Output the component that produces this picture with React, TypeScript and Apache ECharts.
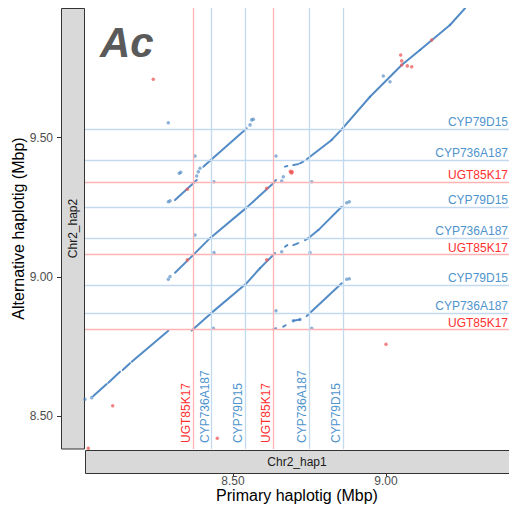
import React, { useEffect, useRef } from 'react';
import * as echarts from 'echarts';

const FONT = '"Liberation Sans", Arial, Helvetica, sans-serif';

// Axis ranges (Mbp)
const xMin = 8.0163;
const xMax = 9.402;
const yMin = 8.3814;
const yMax = 9.966;
const xTicks = [8.5, 9.0];
const yTicks = [8.5, 9.0, 9.5];

// Gene reference lines
const hGeneNames = ['UGT85K17', 'CYP736A187', 'CYP79D15', 'UGT85K17', 'CYP736A187', 'CYP79D15', 'UGT85K17', 'CYP736A187', 'CYP79D15'];
const hGenePos = [8.809, 8.866, 8.974, 9.079, 9.139, 9.247, 9.337, 9.42, 9.531];
const vGeneNames = ['UGT85K17', 'CYP736A187', 'CYP79D15', 'UGT85K17', 'CYP736A187', 'CYP79D15'];
const vGenePos = [8.37, 8.425, 8.5415, 8.632, 8.746, 8.855];

// Alignment blocks: each is a list of polylines [x, y] (Mbp)
const mainLower = [
  [[8.0435, 8.5719], [8.0873, 8.615]],
  [[8.0925, 8.6197], [8.1307, 8.6592]],
  [[8.1395, 8.6653], [8.1634, 8.6894]],
  [[8.169, 8.6951], [8.2886, 8.8065]],
];
const copyAtoAlt3 = [
  [[8.3105, 9.276], [8.3703, 9.336], [8.3814, 9.348]],
  [[8.4029, 9.396], [8.4248, 9.417], [8.5415, 9.53], [8.5448, 9.534]],
];
const mainDiagonal = [
  [[8.3105, 9.015], [8.3703, 9.079], [8.4248, 9.139], [8.5415, 9.246], [8.6317, 9.336], [8.6405, 9.348]],
  [[8.6699, 9.396], [8.6775, 9.398]],
  [[8.6971, 9.402], [8.7134, 9.405]],
  [[8.719, 9.408], [8.7297, 9.414]],
  [[8.7408, 9.4224], [8.8225, 9.492], [8.8552, 9.53], [8.9477, 9.647], [9.0513, 9.761], [9.1111, 9.815], [9.2092, 9.905], [9.2582, 9.965]],
];
const copyAtoAlt1 = [
  [[8.365, 8.807], [8.4248, 8.866], [8.5415, 8.974], [8.5882, 9.031], [8.6154, 9.061], [8.6373, 9.085]],
  [[8.6699, 9.108], [8.6775, 9.114]],
  [[8.6971, 9.114], [8.7134, 9.121]],
  [[8.7353, 9.132], [8.7461, 9.139], [8.7788, 9.168], [8.8552, 9.252]],
];
const copyBtoAlt1 = [
  [[8.6317, 8.812], [8.6405, 8.815]],
  [[8.6644, 8.821], [8.672, 8.826]],
  [[8.6971, 8.842], [8.719, 8.847]],
  [[8.7408, 8.859], [8.7461, 8.865], [8.8552, 8.977]],
];
const alignments = [mainLower, copyAtoAlt3, mainDiagonal, copyAtoAlt1, copyBtoAlt1];

// Scattered hits
const blueDots = [
  [8.0163, 8.56], [8.0382, 8.566],
  [8.2886, 8.991], [8.2941, 9.001],
  [8.2886, 9.27], [8.2941, 9.273],
  [8.2886, 9.554],
  [8.3758, 9.434], [8.4379, 9.342],
  [8.3245, 9.372], [8.3291, 9.376],
  [8.3814, 9.362],
  [8.3866, 9.378], [8.3922, 9.39],
  [8.3758, 9.15], [8.4379, 9.087],
  [8.4357, 8.815],
  [8.5556, 9.546], [8.5611, 9.564], [8.5663, 9.566],
  [8.6592, 9.344], [8.6644, 9.36],
  [8.6405, 9.434], [8.7572, 9.342],
  [8.7516, 9.087],
  [8.6405, 8.878], [8.7572, 8.815],
  [8.6592, 9.09],
  [8.8716, 9.266], [8.8801, 9.27],
  [8.8716, 8.991], [8.8801, 8.993],
  [8.6971, 8.842], [8.719, 8.847],
  [8.9912, 9.722], [9.0131, 9.701],
];
const redDots = [
  [8.2395, 9.71],
  [9.0, 8.758],
  [8.4487, 8.42],
  [8.1069, 8.537],
  [8.0271, 8.384],
  [8.6895, 9.376], [8.6875, 9.379], [8.6915, 9.373], [8.6935, 9.378],
  [9.048, 9.797], [9.0513, 9.776], [9.0513, 9.761], [9.0696, 9.758], [9.084, 9.755],
  [9.1493, 9.851],
  [8.3507, 9.315], [8.6101, 9.318], [8.3507, 9.061], [8.6101, 9.061],
];

const BLUE = '#3f7ebf';
const BLUE_TEXT = '#4f94cd';
const BLUE_LINE = '#c3d9ee';
const RED_TEXT = '#ff3030';
const RED_LINE = '#ffb3b3';

function geneColor(name: string) {
  return name.startsWith('UGT') ? [RED_TEXT, RED_LINE] : [BLUE_TEXT, BLUE_LINE];
}

export default function App() {
  const ref = useRef<HTMLDivElement>(null);
  useEffect(() => {
    const chart = echarts.init(ref.current!, null, { renderer: 'svg' });
    const segs: number[][] = [];
    alignments.forEach((block) =>
      block.forEach((poly) => {
        for (let i = 0; i < poly.length - 1; i++) {
          segs.push([poly[i][0], poly[i][1], poly[i + 1][0], poly[i + 1][1]]);
        }
      })
    );
    const markData: any[] = [];
    hGeneNames.forEach((n, i) => {
      const [tc, lc] = geneColor(n);
      markData.push({
        name: n,
        yAxis: hGenePos[i],
        lineStyle: { color: lc, width: 1.3, type: 'solid' },
        label: { show: true, position: 'insideEndTop', formatter: n, color: tc, fontSize: 12, fontFamily: FONT, distance: [1, 1] },
      });
    });
    vGeneNames.forEach((n, i) => {
      const [tc, lc] = geneColor(n);
      markData.push({
        name: n,
        xAxis: vGenePos[i],
        lineStyle: { color: lc, width: 1.3, type: 'solid' },
        label: { show: true, position: 'insideStartTop', formatter: n, color: tc, fontSize: 12, fontFamily: FONT, distance: [6, 1] },
      });
    });
    const tickLabel = { color: '#4d4d4d', fontSize: 12, fontFamily: FONT };
    const option: any = {
      animation: false,
      grid: { left: 85, top: 8, right: 0, bottom: 72, containLabel: false },
      xAxis: {
        type: 'value', min: xMin, max: xMax, position: 'bottom', offset: 24.5,
        axisLine: { show: false },
        axisTick: { show: true, length: 3, lineStyle: { color: '#333333' }, customValues: xTicks },
        axisLabel: { ...tickLabel, margin: 1, customValues: xTicks, formatter: (v: number) => v.toFixed(2) },
        splitLine: { show: false },
      },
      yAxis: {
        type: 'value', min: yMin, max: yMax, position: 'left', offset: 24,
        axisLine: { show: false },
        axisTick: { show: true, length: 4, lineStyle: { color: '#333333' }, customValues: yTicks },
        axisLabel: { ...tickLabel, margin: 8, customValues: yTicks, formatter: (v: number) => v.toFixed(2) },
        splitLine: { show: false },
      },
      series: [
        {
          type: 'scatter',
          data: [],
          z: 1,
          silent: true,
          markLine: { silent: true, symbol: ['none', 'none'], animation: false, data: markData },
        },
        {
          type: 'custom',
          z: 3,
          silent: true,
          clip: true,
          encode: { x: [0, 2], y: [1, 3] },
          data: segs,
          renderItem: (params: any, api: any) => {
            const p1 = api.coord([api.value(0), api.value(1)]);
            const p2 = api.coord([api.value(2), api.value(3)]);
            return {
              type: 'line',
              shape: { x1: p1[0], y1: p1[1], x2: p2[0], y2: p2[1] },
              style: { stroke: BLUE, lineWidth: 2, lineCap: 'round', opacity: 0.9 },
            };
          },
        },
        {
          type: 'scatter', z: 4, silent: true, data: blueDots, symbolSize: 3.5,
          itemStyle: { color: BLUE, opacity: 0.6 },
        },
        {
          type: 'scatter', z: 5, silent: true, data: redDots, symbolSize: 3.5,
          itemStyle: { color: '#f05a5a', opacity: 0.75 },
        },
      ],
      graphic: [
        { type: 'rect', shape: { x: 61.5, y: 8.5, width: 23, height: 440.5 }, style: { fill: '#d9d9d9', stroke: '#333333', lineWidth: 1 } },
        { type: 'text', x: 73, y: 228.5, rotation: Math.PI / 2, style: { text: 'Chr2_hap2', fill: '#1a1a1a', fontSize: 12, fontFamily: FONT, align: 'center', verticalAlign: 'middle', textAlign: 'center', textVerticalAlign: 'middle' } },
        { type: 'rect', shape: { x: 85.5, y: 450.5, width: 430, height: 23 }, style: { fill: '#d9d9d9', stroke: '#333333', lineWidth: 1 } },
        { type: 'text', x: 297, y: 462, style: { text: 'Chr2_hap1', fill: '#1a1a1a', fontSize: 12, fontFamily: FONT, align: 'center', verticalAlign: 'middle', textAlign: 'center', textVerticalAlign: 'middle' } },
        { type: 'text', x: 18, y: 228.5, rotation: Math.PI / 2, style: { text: 'Alternative haplotig (Mbp)', fill: '#000000', fontSize: 16, fontFamily: FONT, align: 'center', verticalAlign: 'middle', textAlign: 'center', textVerticalAlign: 'middle' } },
        { type: 'text', x: 297, y: 495, style: { text: 'Primary haplotig (Mbp)', fill: '#000000', fontSize: 16, fontFamily: FONT, align: 'center', verticalAlign: 'middle', textAlign: 'center', textVerticalAlign: 'middle' } },
        { type: 'text', x: 100, y: 42, style: { text: 'Ac', fill: '#5a5a5a', fontSize: 42, fontWeight: 'bold', fontStyle: 'italic', fontFamily: FONT, align: 'left', verticalAlign: 'middle', textAlign: 'left', textVerticalAlign: 'middle' } },
      ],
    };
    chart.setOption(option);
    return () => chart.dispose();
  }, []);
  return <div ref={ref} style={{ position: 'absolute', left: 0, top: 0, width: 509, height: 521 }} />;
}
